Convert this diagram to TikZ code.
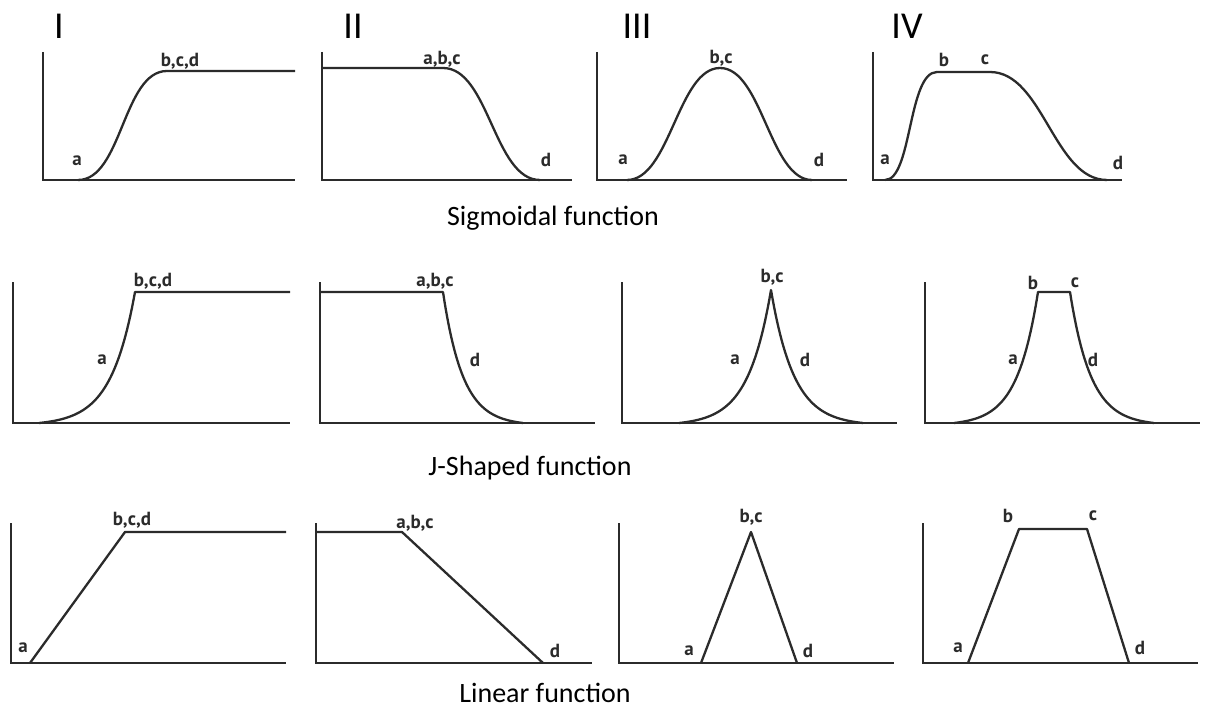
\documentclass[tikz,border=0pt]{standalone}
\usepackage{fontspec}
\setmainfont{Carlito}
\newfontfamily\curvelabelfont{PT Sans}
\definecolor{curveink}{HTML}{2B2B2B}

\begin{document}
\begin{tikzpicture}[
        x=1pt, y=-1pt,
        axisline/.style={line width=2.8pt, curveink},
        curveline/.style={line width=2.3pt, curveink, line join=round},
        pointlabel/.style={
            inner sep=0pt,
            text=curveink,
            font=\curvelabelfont\bfseries\fontsize{19}{19}\selectfont
        },
        panelnumber/.style={inner sep=0pt, font=\fontsize{38}{38}\selectfont},
        rowcaption/.style={inner sep=0pt, font=\fontsize{28}{28}\selectfont}
    ]
        \useasboundingbox (0,0) rectangle (1206,711);

        % panel numbers
        \node[panelnumber] (numI) at (59,26) {I};
        \node[panelnumber] (numII) at (353,26) {II};
        \node[panelnumber] (numIII) at (637,26) {III};
        \node[panelnumber] (numIV) at (907,26) {IV};

        % sigmoidal row
        \draw[axisline] (43,52) |- (295,180);
        \draw[axisline] (322,52) |- (572,180);
        \draw[axisline] (597,52) |- (847,180);
        \draw[axisline] (873,52) |- (1122,180);

        \draw[curveline] (78,180) .. controls (122,180) and (123,71) .. (167,71) -- (295,71);
        \draw[curveline] (322,68) -- (443,68) .. controls (489,68) and (494,180) .. (540,180);
        \draw[curveline]
            (627,180) .. controls (670,180) and (678,68) .. (720,68)
            .. controls (762,68) and (770,180) .. (812,180);
        \draw[curveline]
            (885,180) .. controls (912,180) and (908,72) .. (937,72) -- (990,72)
            .. controls (1043,72) and (1054,180) .. (1107,180);

        \node[pointlabel] (sigIa) at (77,161) {a};
        \node[pointlabel] (sigIbcd) at (180,61) {b,c,d};
        \node[pointlabel] (sigIIabc) at (442,59) {a,b,c};
        \node[pointlabel] (sigIId) at (546,160) {d};
        \node[pointlabel] (sigIIIa) at (623,160) {a};
        \node[pointlabel] (sigIIIbc) at (721,58) {b,c};
        \node[pointlabel] (sigIIId) at (819,160) {d};
        \node[pointlabel] (sigIVa) at (885,160) {a};
        \node[pointlabel] (sigIVb) at (944,60) {b};
        \node[pointlabel] (sigIVc) at (985,60) {c};
        \node[pointlabel] (sigIVd) at (1118,163) {d};

        \node[rowcaption] (sigcaption) at (553,218) {Sigmoidal function};

        % J-shaped row
        \draw[axisline] (13,282) |- (290,423);
        \draw[axisline] (320,282) |- (595,423);
        \draw[axisline] (622,282) |- (897,423);
        \draw[axisline] (925,282) |- (1200,423);

        \draw[curveline]
            plot[domain=39:135, samples=60] (\x, {423-131*(exp((\x-135)/24)-0.0183)/0.9817})
            -- (290,292);
        \draw[curveline]
            (320,292) -- (443,292)
            -- plot[domain=443:523, samples=60] (\x, {423-131*(exp(-(\x-443)/20)-0.0183)/0.9817});
        \draw[curveline]
            plot[domain=679:771, samples=60] (\x, {423-133*(exp((\x-771)/23)-0.0183)/0.9817})
            -- plot[domain=771:863, samples=60] (\x, {423-133*(exp(-(\x-771)/23)-0.0183)/0.9817});
        \draw[curveline]
            plot[domain=954:1038, samples=60] (\x, {423-131*(exp((\x-1038)/21)-0.0183)/0.9817})
            -- plot[domain=1070:1154, samples=60] (\x, {423-131*(exp(-(\x-1070)/21)-0.0183)/0.9817});

        \node[pointlabel] (jayIa) at (102,360) {a};
        \node[pointlabel] (jayIbcd) at (153,281) {b,c,d};
        \node[pointlabel] (jayIIabc) at (435,281) {a,b,c};
        \node[pointlabel] (jayIId) at (475,360) {d};
        \node[pointlabel] (jayIIIa) at (735,360) {a};
        \node[pointlabel] (jayIIIbc) at (772,277) {b,c};
        \node[pointlabel] (jayIIId) at (805,360) {d};
        \node[pointlabel] (jayIVa) at (1013,360) {a};
        \node[pointlabel] (jayIVb) at (1033,283) {b};
        \node[pointlabel] (jayIVc) at (1075,283) {c};
        \node[pointlabel] (jayIVd) at (1093,360) {d};

        \node[rowcaption] (jaycaption) at (530,468) {J-Shaped function};

        % linear row
        \draw[axisline] (11,523) |- (286,663);
        \draw[axisline] (316,523) |- (592,663);
        \draw[axisline] (619,523) |- (894,663);
        \draw[axisline] (923,523) |- (1198,663);

        \draw[curveline] (30,663) -- (125,532) -- (286,532);
        \draw[curveline] (316,532) -- (402,532) -- (543,663);
        \draw[curveline] (701,663) -- (751,532) -- (797,663);
        \draw[curveline] (968,663) -- (1019,529) -- (1087,529) -- (1129,663);

        \node[pointlabel] (linIa) at (23,648) {a};
        \node[pointlabel] (linIbcd) at (132,520) {b,c,d};
        \node[pointlabel] (linIIabc) at (415,523) {a,b,c};
        \node[pointlabel] (linIId) at (555,651) {d};
        \node[pointlabel] (linIIIa) at (689,651) {a};
        \node[pointlabel] (linIIIbc) at (751,517) {b,c};
        \node[pointlabel] (linIIId) at (808,651) {d};
        \node[pointlabel] (linIVa) at (958,648) {a};
        \node[pointlabel] (linIVb) at (1008,516) {b};
        \node[pointlabel] (linIVc) at (1093,516) {c};
        \node[pointlabel] (linIVd) at (1140,648) {d};

        \node[rowcaption] (lincaption) at (545,693) {Linear function};
    \end{tikzpicture}
\end{document}
